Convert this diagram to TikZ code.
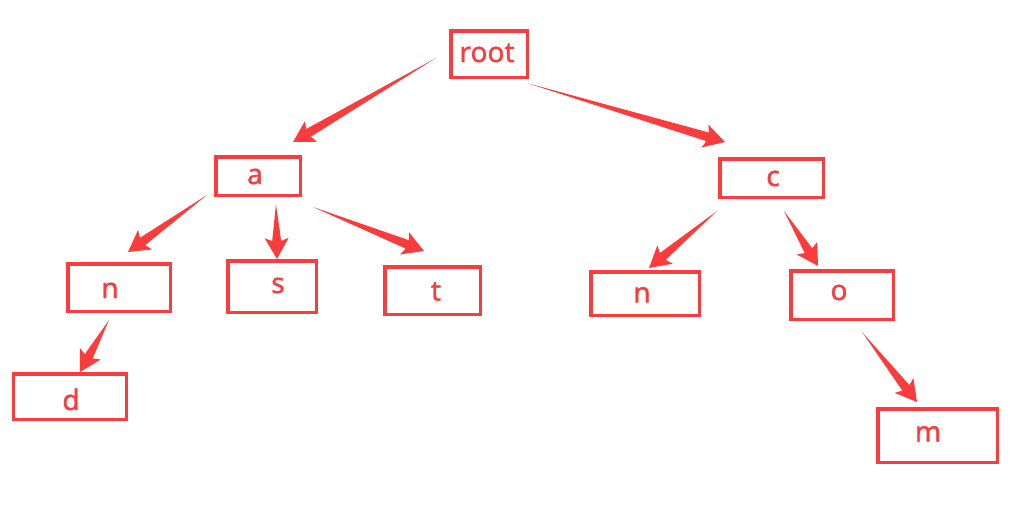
\documentclass[tikz,border=0pt]{standalone}
\usepackage{fontspec}
\setmainfont{Noto Sans}
\newfontfamily\lblfont{Noto Sans}[FakeBold=1.2]
\usetikzlibrary{calc}
\definecolor{trie}{RGB}{250,60,60}
\tikzset{
  box/.style 2 args={draw=trie, line width=0.07cm, inner sep=0pt,
    minimum width=#1*0.02cm-0.07cm, minimum height=#2*0.02cm-0.07cm},
  lbl/.style={text=trie, anchor=base, inner sep=0pt, font=\lblfont\fontsize{16pt}{18pt}\selectfont},
}
% tapered marker-style arrow from #1 (thin tail) to #2 (tip)
\newcommand\taperarrow[2]{%
  \path ($(#2)!0.36cm!(#1)$) coordinate (hb)
        ($(#2)!0.42cm!(#1)$) coordinate (hw);
  \fill[trie] (#1) -- ($(hb)!0.09cm!90:(#1)$) -- ($(hw)!0.24cm!90:(#1)$) -- (#2)
    -- ($(hw)!0.24cm!-90:(#1)$) -- ($(hb)!0.09cm!-90:(#1)$) -- cycle;
}
\begin{document}
\begin{tikzpicture}[x=0.02cm, y=-0.02cm]
\useasboundingbox (0,0) rectangle (1024,505);
% boxes
\node[box={80}{50}]  (root) at (489,54) {};
\node[box={88}{42}]  (a)    at (258,176) {};
\node[box={107}{42}] (c)    at (771.5,178) {};
\node[box={106}{51}] (an)   at (119,287.5) {};
\node[box={92}{55}]  (as)   at (272,286.5) {};
\node[box={99}{51}]  (at)   at (432.5,290.5) {};
\node[box={116}{49}] (and)  at (70,396.5) {};
\node[box={112}{47}] (cn)   at (645,293.5) {};
\node[box={106}{52}] (co)   at (842,295) {};
\node[box={123}{57}] (com)  at (937.5,435.5) {};
% letters
\node[lbl] (rootT) at (487,62) {root};
\node[lbl] (aT)    at (255,184) {a};
\node[lbl] (cT)    at (773,186) {c};
\node[lbl] (anT)   at (110,298) {n};
\node[lbl] (asT)   at (278,293) {s};
\node[lbl] (atT)   at (436,300.5) {t};
\node[lbl] (andT)  at (71,410) {d};
\node[lbl] (cnT)   at (642,302.5) {n};
\node[lbl] (coT)   at (839,300) {o};
\node[lbl] (comT)  at (928,441.5) {m};
% arrow ends
\coordinate (r-a1) at (436,58);  \coordinate (r-a2) at (293,142);
\coordinate (r-c1) at (527,83);  \coordinate (r-c2) at (725,142);
\coordinate (a-n1) at (207,195); \coordinate (a-n2) at (128,252);
\coordinate (a-s1) at (276,204); \coordinate (a-s2) at (277,259);
\coordinate (a-t1) at (313,207); \coordinate (a-t2) at (424,251);
\coordinate (n-d1) at (109,320); \coordinate (n-d2) at (80,372);
\coordinate (c-n1) at (717,211); \coordinate (c-n2) at (649,268);
\coordinate (c-o1) at (784,211); \coordinate (c-o2) at (818,266);
\coordinate (o-m1) at (862,332); \coordinate (o-m2) at (917,402);
% arrows
\taperarrow{r-a1}{r-a2}
\taperarrow{r-c1}{r-c2}
\taperarrow{a-n1}{a-n2}
\taperarrow{a-s1}{a-s2}
\taperarrow{a-t1}{a-t2}
\taperarrow{n-d1}{n-d2}
\taperarrow{c-n1}{c-n2}
\taperarrow{c-o1}{c-o2}
\taperarrow{o-m1}{o-m2}
\end{tikzpicture}
\end{document}
